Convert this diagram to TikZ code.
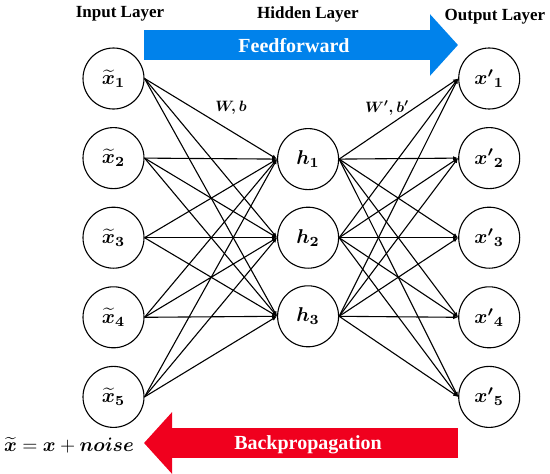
\documentclass[tikz,border=0pt]{standalone}
\usepackage{amsmath}
\usepackage{graphicx}
\usepackage{fontspec}
\setmainfont{Liberation Serif}
\usepackage{xcolor}
\usetikzlibrary{arrows.meta, positioning}

\definecolor{ffblue}{RGB}{0,130,235}
\definecolor{bpred}{RGB}{240,0,30}

% bold math, scaled up
\newcommand{\bm}[2]{\scalebox{#1}{\normalsize$\boldsymbol{#2}$}}

\begin{document}
\begin{tikzpicture}[
    x=1pt, y=1pt,
    node distance=17.5pt and 132.5pt,
    neuron/.style={
        circle,
        draw=black,
        line width=1.1pt,
        minimum size=61pt,
        inner sep=0pt
    },
    layerlabel/.style={
        font=\fontsize{17}{20}\selectfont\bfseries
    },
    arrowtext/.style={
        font=\fontsize{20}{24}\selectfont\bfseries,
        text=white
    },
    link/.style={
        -{Latex[length=5pt,width=4pt]},
        line width=1.1pt
    },
    bigarrow/.style={
        line width=30pt,
        -{Triangle[length=28pt,width=60pt]}
    }
]
\useasboundingbox (0,0) rectangle (550,-474);

% Input layer
\node[neuron] (x1) at (113.5,-78.5) {\bm{2}{\widetilde{x}_1}};
\node[neuron, below=of x1] (x2) {\bm{2}{\widetilde{x}_2}};
\node[neuron, below=of x2] (x3) {\bm{2}{\widetilde{x}_3}};
\node[neuron, below=of x3] (x4) {\bm{2}{\widetilde{x}_4}};
\node[neuron, below=of x4] (x5) {\bm{2}{\widetilde{x}_5}};

% Hidden layer
\node[neuron, right=of x3] (h2) {\bm{2}{h_2}};
\node[neuron, above=16.5pt of h2] (h1) {\bm{2}{h_1}};
\node[neuron, below=16.5pt of h2] (h3) {\bm{2}{h_3}};

% Output layer
\node[neuron, right=119pt of h2] (xr3) {\bm{2}{{x'}_3}};
\node[neuron, above=of xr3] (xr2) {\bm{2}{{x'}_2}};
\node[neuron, above=of xr2] (xr1) {\bm{2}{{x'}_1}};
\node[neuron, below=of xr3] (xr4) {\bm{2}{{x'}_4}};
\node[neuron, below=of xr4] (xr5) {\bm{2}{{x'}_5}};

% Layer titles
\node[layerlabel] (inlabel) at (120,-14) {Input Layer};
\node[layerlabel] (hidlabel) at (308,-14) {Hidden Layer};
\node[layerlabel] (outlabel) at (495,-17) {Output Layer};

% Weights
\node (enc) at (231,-108) {\bm{1.5}{W, b}};
\node (dec) at (387,-108) {\bm{1.5}{W', b'}};

% Connections
\foreach \i in {1,...,5}
    \foreach \j in {1,2,3}
        \draw[link] (x\i.east) -- (h\j.west);
\foreach \j in {1,2,3}
    \foreach \k in {1,...,5}
        \draw[link] (h\j.east) -- (xr\k.west);

% Feedforward arrow
\coordinate (ffstart) at (144,-45);
\coordinate (ffend) at (458,-45);
\draw[bigarrow, ffblue] (ffstart) -- (ffend);
\node[arrowtext] (fftext) at (294,-46) {Feedforward};

% Backpropagation arrow
\coordinate (bpstart) at (458,-443);
\coordinate (bpend) at (144,-443);
\draw[bigarrow, bpred] (bpstart) -- (bpend);
\node[arrowtext] (bptext) at (308,-445) {Backpropagation};

% Noise
\node (noise) at (69,-445)
    {\scalebox{1.95}{\normalsize$\boldsymbol{\widetilde{x}} = \boldsymbol{x} + \boldsymbol{noise}$}};

\end{tikzpicture}
\end{document}
